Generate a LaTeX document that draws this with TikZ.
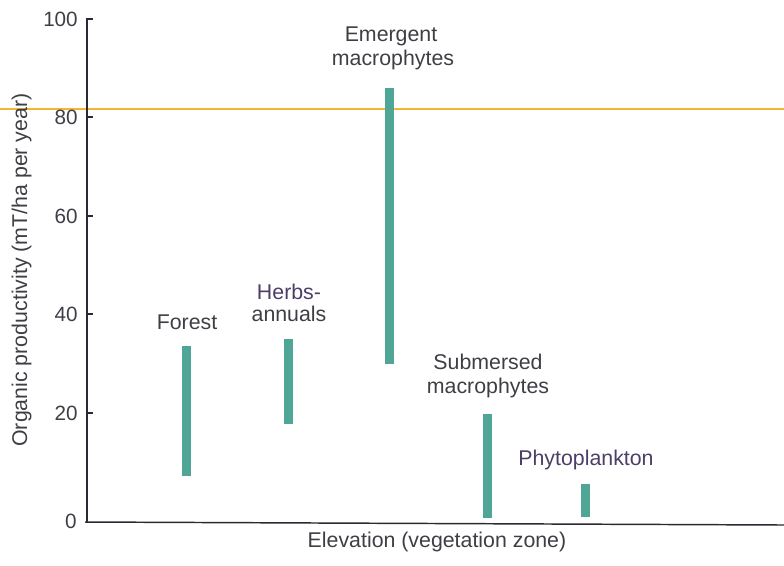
\documentclass[tikz,border=0pt]{standalone}
\usepackage{fontspec}
\setmainfont{Liberation Sans}
\begin{document}
\begin{tikzpicture}[x=0.75pt,y=-0.75pt,
  lbl/.style={inner sep=0pt,anchor=base,font=\fontsize{16}{18}\selectfont,text=txtgray},
  tick/.style={inner sep=0pt,anchor=east,font=\fontsize{15.5}{18}\selectfont,text=txtgray},
  bar/.style={fill=barteal,draw=none},
  axis/.style={draw=axisdark,line width=1.1pt}]
\definecolor{barteal}{HTML}{4FA696}
\definecolor{txtgray}{HTML}{3E3F45}
\definecolor{txtpurple}{HTML}{4C3E66}
\definecolor{axisdark}{HTML}{2B2A33}
\definecolor{scanorange}{HTML}{F6B530}
\useasboundingbox (0,0) rectangle (784,565);
% scan line
\coordinate (sl) at (0,109);
\coordinate (sr) at (784,109);
\draw[scanorange,line width=1.4pt] (sl) -- (sr);
% axes
\coordinate (ytop) at (87,18);
\coordinate (orig) at (87,522);
\coordinate (xend) at (784,525);
\draw[axis] (ytop) -- (orig);
\draw[axis] (85,522) -- (xend);
% ticks
\foreach \v/\yy in {100/19,80/117,60/216,40/314,20/413}{
  \draw[axis,line width=0.9pt] (87,\yy) -- (93,\yy);
  \node[tick] (t\v) at (78,\yy) {\v};
}
\node[tick] (t0) at (77,521) {0};
% bars
\fill[bar] (182,346) rectangle (191,476);
\fill[bar] (284,339) rectangle (293,424);
\fill[bar] (385,88) rectangle (394,364);
\fill[bar] (483,414) rectangle (492,518);
\fill[bar] (581,484) rectangle (590,517);
% labels
\node[lbl] (forest) at (187,329) {Forest};
\node[lbl,text=txtpurple] (herbs) at (289,299) {Herbs-};
\node[lbl] (annuals) at (289,321) {annuals};
\node[lbl] (emerg) at (391,41) {Emergent};
\node[lbl] (emmac) at (393,65) {macrophytes};
\node[lbl] (subm) at (488,369) {Submersed};
\node[lbl] (submac) at (488,393) {macrophytes};
\node[lbl,text=txtpurple] (phyto) at (586,465) {Phytoplankton};
\node[lbl] (xlab) at (437,547) {Elevation (vegetation zone)};
\node[lbl,rotate=90,text=txtgray] (ylab) at (27,270) {Organic productivity (mT/ha per year)};
\end{tikzpicture}
\end{document}
